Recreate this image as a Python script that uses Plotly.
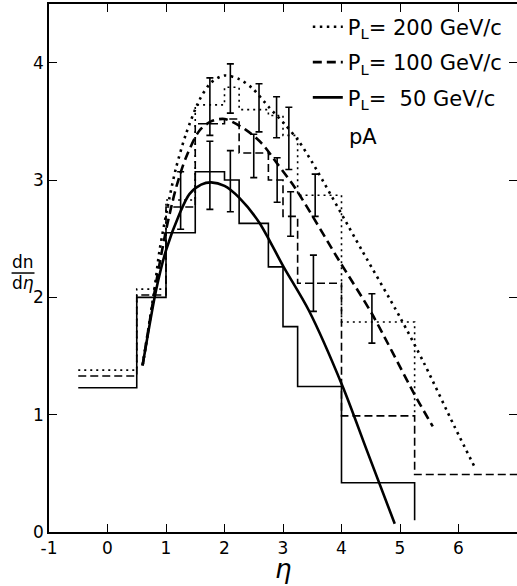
import plotly.graph_objects as go

# ---- data ----
edges_50 = [-0.5, 0.5, 1.0, 1.5, 2.0, 2.25, 2.75, 3.0, 3.25, 4.0, 5.25]
hist_50 = [1.23, 2.0, 2.55, 3.07, 3.0, 2.63, 2.26, 1.75, 1.24, 0.42]
hist_50_end = 0.1

edges_100 = [-0.5, 0.5, 1.0, 1.5, 2.0, 2.25, 2.75, 3.0, 3.25, 4.0, 5.25, 7.0]
hist_100 = [1.33, 2.02, 2.77, 3.48, 3.52, 3.23, 3.0, 2.69, 2.12, 0.99, 0.49]

edges_200 = [-0.5, 0.5, 1.0, 1.5, 2.0, 2.25, 2.75, 3.0, 3.25, 4.0, 5.25]
hist_200 = [1.38, 2.07, 2.83, 3.64, 3.79, 3.6, 3.55, 3.38, 2.87, 1.79]
hist_200_end = 0.99

curve_50_x = [0.6, 0.83, 1.0, 1.23, 1.4, 1.6, 1.77, 2.0, 2.25, 2.59, 3.01, 3.44, 4.02, 4.43, 4.91]
curve_50_y = [1.42, 2.06, 2.4, 2.71, 2.88, 2.96, 2.98, 2.95, 2.85, 2.64, 2.26, 1.89, 1.24, 0.70, 0.07]

curve_100_x = [0.6, 0.83, 1.0, 1.17, 1.34, 1.57, 1.77, 2.0, 2.36, 2.64, 2.9, 3.21, 3.95, 4.52, 5.25, 5.56]
curve_100_y = [1.42, 2.12, 2.57, 2.93, 3.19, 3.42, 3.5, 3.52, 3.43, 3.31, 3.14, 2.93, 2.32, 1.86, 1.17, 0.9]

curve_200_x = [0.6, 0.8, 0.89, 1.06, 1.17, 1.34, 1.57, 1.77, 1.99, 2.25, 2.48, 2.76, 3.04, 3.27, 3.5, 4.35, 5.0, 5.42, 5.93, 6.3]
curve_200_y = [1.42, 2.06, 2.4, 2.85, 3.1, 3.39, 3.68, 3.83, 3.89, 3.86, 3.78, 3.62, 3.47, 3.33, 3.15, 2.4, 1.83, 1.43, 0.9, 0.53]

err_x = [1.25, 1.75, 1.75, 2.1, 2.1, 2.59, 2.5, 2.89, 2.9, 3.1, 3.13, 3.55, 3.52, 4.52]
err_lo = [2.58, 3.38, 2.75, 3.57, 2.73, 3.41, 3.02, 3.36, 2.81, 3.09, 2.52, 2.69, 1.88, 1.61]
err_hi = [3.07, 3.87, 3.33, 3.99, 3.25, 3.82, 3.39, 3.71, 3.19, 3.62, 2.90, 3.05, 2.36, 2.03]

labels = ["P<sub>L</sub>= 200 GeV/c", "P<sub>L</sub>= 100 GeV/c", "P<sub>L</sub>=  50 GeV/c"]
x_ticks = [-1, 0, 1, 2, 3, 4, 5, 6]
y_ticks = [0, 1, 2, 3, 4]

FONT = "DejaVu Sans"
fig = go.Figure()


def step_trace(edges, vals, end_val, dash):
    xs = list(edges)
    ys = list(vals) + ([end_val] if end_val is not None else [vals[-1]])
    return go.Scatter(x=xs, y=ys, mode="lines", line_shape="hv",
                      line=dict(color="black", width=1.6, dash=dash),
                      showlegend=False, hoverinfo="skip")


fig.add_trace(step_trace(edges_50, hist_50, hist_50_end, "solid"))
fig.add_trace(step_trace(edges_100, hist_100, None, "8px,4px"))
fig.add_trace(step_trace(edges_200, hist_200, hist_200_end, "2px,4px"))

# error bars
centers = [(a + b) / 2 for a, b in zip(err_lo, err_hi)]
half = [(b - a) / 2 for a, b in zip(err_lo, err_hi)]
fig.add_trace(go.Scatter(x=err_x, y=centers, mode="markers",
                         marker=dict(size=1, color="rgba(0,0,0,0)"),
                         error_y=dict(type="data", array=half, visible=True,
                                      color="black", thickness=1.6, width=3.5),
                         showlegend=False, hoverinfo="skip"))

# curves (legend entries)
fig.add_trace(go.Scatter(x=curve_200_x, y=curve_200_y, mode="lines", line_shape="spline",
                         line=dict(color="black", width=2.6, dash="2.5px,4.5px", smoothing=0.8),
                         name=labels[0], legendgroup="a"))
fig.add_trace(go.Scatter(x=curve_100_x, y=curve_100_y, mode="lines", line_shape="spline",
                         line=dict(color="black", width=2.6, dash="9px,5px", smoothing=0.8),
                         name=labels[1], legendgroup="b"))
fig.add_trace(go.Scatter(x=curve_50_x, y=curve_50_y, mode="lines", line_shape="spline",
                         line=dict(color="black", width=2.6, smoothing=0.8),
                         name=labels[2], legendgroup="c"))

fig.add_annotation(x=4.1, y=3.37, text="pA", showarrow=False, xanchor="left",
                   font=dict(family=FONT, size=21, color="black"))

# y-axis title as a fraction
fig.add_annotation(xref="paper", yref="paper", x=-0.056, y=0.511, text="dn",
                   showarrow=False, xanchor="center", yanchor="middle",
                   font=dict(family=FONT, size=17, color="black"))
fig.add_annotation(xref="paper", yref="paper", x=-0.056, y=0.471, text="d<i>η</i>",
                   showarrow=False, xanchor="center", yanchor="middle",
                   font=dict(family=FONT, size=17, color="black"))
fig.add_shape(type="line", xref="paper", yref="paper", x0=-0.080, x1=-0.031,
              y0=0.4905, y1=0.4905, line=dict(color="black", width=1.5))

# x-axis title
fig.add_annotation(xref="paper", yref="paper", x=0.5, y=-0.1023, text="<i>η</i>",
                   showarrow=False, xanchor="center", yanchor="bottom",
                   font=dict(family=FONT, size=26, color="black"))

axis_common = dict(showline=True, linecolor="black", linewidth=1.6, mirror="ticks",
                   ticks="inside", ticklen=8, tickwidth=1.4, tickcolor="black",
                   showgrid=False, zeroline=False, automargin=False,
                   tickfont=dict(family=FONT, size=17, color="black"))

fig.update_layout(
    width=517, height=586,
    margin=dict(l=49, r=0, t=4, b=54, autoexpand=False),
    paper_bgcolor="white", plot_bgcolor="white",
    xaxis=dict(range=[-1, 7], tickvals=x_ticks, ticktext=[str(v) for v in x_ticks],
               **axis_common),
    yaxis=dict(range=[0, 4.5], tickvals=y_ticks, ticktext=[str(v) for v in y_ticks],
               **axis_common),
    legend=dict(x=0.553, y=0.995, xanchor="left", yanchor="top",
                font=dict(family=FONT, size=21, color="black"),
                bgcolor="rgba(0,0,0,0)", tracegroupgap=5, itemwidth=30),
    showlegend=True,
)

fig.write_html("out.html", config={"displayModeBar": False},
               post_script="document.body.style.margin='0px';"
                           "document.body.style.overflow='hidden';")
